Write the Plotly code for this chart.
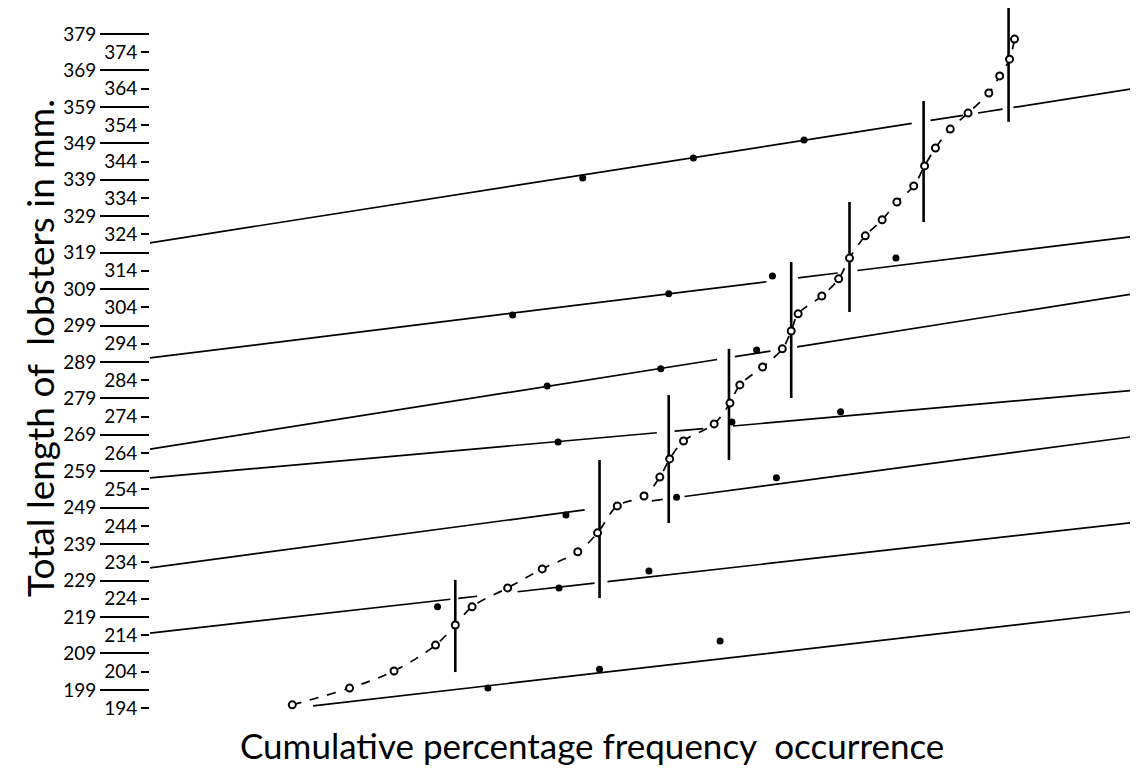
import plotly.graph_objects as go

# ---------------- data ----------------
# cumulative curve (x in arbitrary cumulative-percentage units 0-100, y = length mm)
curve_x = [14.4, 20.2, 24.7, 28.9, 30.9, 32.6, 36.2, 39.7, 43.3, 45.3, 47.3, 50.0, 51.6,
           52.6, 54.0, 57.1, 58.7, 59.7, 62.0, 64.0, 64.9, 65.6, 68.0, 69.7, 70.8, 72.4,
           74.1, 75.6, 77.3, 78.4, 79.5, 81.0, 82.8, 84.9, 86.0, 87.0, 87.5]
curve_y = [194.9, 199.5, 204.2, 211.3, 216.8, 221.8, 227.0, 232.2, 236.9, 242.1, 249.5, 252.2,
           257.4, 262.4, 267.3, 272.0, 277.7, 282.7, 287.6, 292.6, 297.5, 302.2, 307.1, 311.8,
           317.5, 323.6, 328.0, 332.9, 337.3, 342.8, 347.7, 352.9, 357.3, 362.8, 367.5, 372.1,
           377.6]

# isolated points belonging to the component lines
pts_x = [43.8, 55.0, 66.2,
         36.7, 52.5, 63.0, 75.5,
         40.2, 51.7, 61.4,
         41.3, 58.9, 69.9,
         42.1, 53.3, 63.4, 99.9,
         29.1, 41.4, 50.5,
         34.2, 45.5, 57.7]
pts_y = [339.5, 345.0, 349.9,
         301.9, 307.7, 312.6, 317.5,
         282.4, 287.1, 292.3,
         267.0, 272.5, 275.3,
         247.0, 251.9, 257.2, 262.9,
         221.8, 227.0, 231.6,
         199.5, 204.7, 212.4]

# straight component lines: left/right end (x, y) and drawn x-intervals
line_x0 = [0.0, 0.0, 0.0, 0.0, 0.0, 0.0, 16.5]
line_y0 = [321.7, 290.1, 265.1, 257.2, 232.5, 214.6, 194.6]
line_x1 = [100.0, 100.0, 100.0, 100.0, 100.0, 100.0, 100.0]
line_y1 = [364.2, 323.6, 307.9, 281.3, 268.7, 245.1, 220.7]
line_pieces = [
    [(0, 77.1), (79.0, 82.3), (83.8, 86.3), (87.4, 100)],
    [(0, 62.4), (65.6, 69.6), (71.6, 100)],
    [(0, 57.4), (59.2, 62.8), (65.5, 100)],
    [(0, 51.3), (53.1, 56.0), (59.0, 100)],
    [(0, 44.0), (50.8, 51.9), (54.1, 100)],
    [(0, 30.4), (31.2, 33.1), (37.2, 45.0), (46.3, 100)],
    [(16.5, 100)],
]

# vertical separators
vert_x = [30.9, 45.5, 52.5, 58.6, 64.9, 70.8, 78.3, 86.9]
vert_top = [229.2, 262.1, 279.9, 292.6, 316.4, 332.9, 360.6, 387.0]
vert_bot = [203.9, 224.2, 244.8, 262.1, 279.1, 302.7, 327.4, 354.9]

# axis ticks
major_ticks = list(range(199, 380, 10))
minor_ticks = list(range(194, 375, 10))

FONT = "Lato"

fig = go.Figure()

# component lines
lx, ly = [], []
for x0, y0, x1, y1, pieces in zip(line_x0, line_y0, line_x1, line_y1, line_pieces):
    slope = (y1 - y0) / (x1 - x0)
    for a, b in pieces:
        lx += [a, b, None]
        ly += [y0 + slope * (a - x0), y0 + slope * (b - x0), None]
fig.add_trace(go.Scatter(x=lx, y=ly, mode="lines",
                         line=dict(color="black", width=1.7), hoverinfo="skip"))

# vertical separators
vx, vy = [], []
for x, t, b in zip(vert_x, vert_top, vert_bot):
    vx += [x, x, None]
    vy += [t, b, None]
fig.add_trace(go.Scatter(x=vx, y=vy, mode="lines",
                         line=dict(color="black", width=2.6), hoverinfo="skip"))

# cumulative curve
fig.add_trace(go.Scatter(x=curve_x, y=curve_y, mode="lines+markers",
                         line=dict(color="black", width=1.7, dash="dash", shape="spline"),
                         marker=dict(symbol="circle", size=7, color="white",
                                     line=dict(color="black", width=2))))

# isolated points
fig.add_trace(go.Scatter(x=pts_x, y=pts_y, mode="markers",
                         marker=dict(symbol="circle", size=7, color="black")))

# dummy trace for second y axis
fig.add_trace(go.Scatter(x=[None], y=[None], yaxis="y2", showlegend=False))

yr = [189.37, 386.13]
fig.update_layout(
    width=1130, height=764,
    margin=dict(l=142, r=0, t=0, b=47),
    paper_bgcolor="white", plot_bgcolor="white",
    showlegend=False,
    xaxis=dict(range=[0, 100], visible=False),
    yaxis=dict(range=yr, tickvals=major_ticks, ticktext=[str(v) for v in major_ticks],
               ticks="outside", ticklen=49, tickwidth=1.5, tickcolor="black",
               showgrid=False, zeroline=False, showline=False,
               tickfont=dict(family=FONT, size=19, color="black")),
    yaxis2=dict(range=yr, overlaying="y", side="left", anchor="x",
                tickvals=minor_ticks, ticktext=[str(v) for v in minor_ticks],
                ticks="outside", ticklen=8, tickwidth=1.5, tickcolor="black",
                showgrid=False, zeroline=False, showline=False,
                tickfont=dict(family=FONT, size=19, color="black")),
    annotations=[
        dict(text="Cumulative percentage frequency  occurrence", xref="paper", yref="paper",
             x=0.4474, y=-0.028, xanchor="center", yanchor="middle", showarrow=False,
             font=dict(family=FONT, size=35, color="black")),
        dict(text="Total length of  lobsters in mm.", xref="paper", yref="paper",
             x=-0.1113, y=0.526, xanchor="center", yanchor="middle", showarrow=False,
             textangle=-90, font=dict(family=FONT, size=37, color="black")),
    ],
)

fig.write_html("out.html")
